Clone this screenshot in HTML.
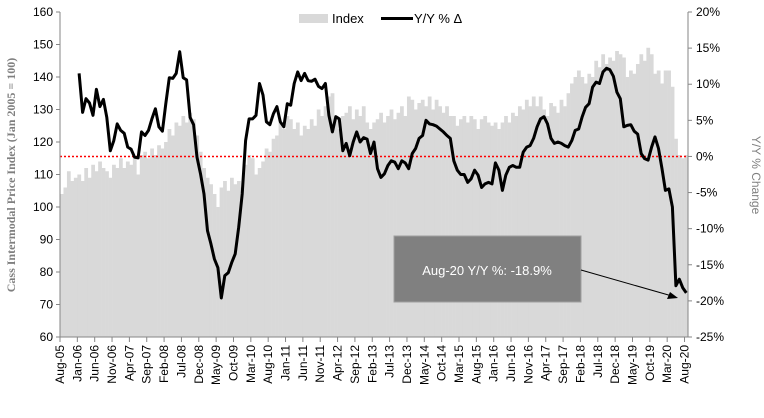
<!DOCTYPE html>
<html><head><meta charset="utf-8"><style>
body{margin:0;background:#fff;}
svg text{font-family:"Liberation Sans",sans-serif;}
</style></head><body>
<svg id="c" width="764" height="413" xmlns="http://www.w3.org/2000/svg"></svg>
<script>
const indexValues=[104,106,111,108,109,
110,108,112,109,113,111,114,112,111,109,113,112,
115,112,114,113,115,110,116,117,115,118,116,119,
118,120,124,122,126,125,128,126,129,127,122,117,
112,109,107,104,100,106,108,105,109,107,108,106,
113,116,115,110,112,114,118,117,121,122,126,124,
128,127,124,126,122,125,124,127,125,130,128,131,
134,135,127,124,128,129,131,127,130,128,131,126,
124,126,127,129,126,128,130,127,129,131,128,134,
133,130,132,133,131,134,130,133,131,129,131,128,
128,125,127,128,126,128,127,124,127,128,126,125,
126,124,126,128,126,129,128,131,130,133,131,134,
131,134,130,128,132,131,129,133,131,135,138,140,
142,140,138,141,140,145,143,147,144,146,145,148,
147,146,140,142,141,144,147,145,149,147,141,142,
138,142,142,137,121,116,115,116];
const yoyStart=5;
const yoyValues=[11.5,6.1,8.0,7.4,5.7,9.3,6.9,7.9,5.4,0.8,2.2,4.5,3.6,3.2,1.3,1.0,-0.1,-0.2,3.4,2.9,3.6,5.2,6.6,4.1,3.5,7.3,10.9,10.8,11.5,14.5,10.9,10.6,5.4,4.4,-0.1,-2.4,-5.2,-10.3,-12.1,-14.2,-15.4,-19.6,-16.5,-16.1,-14.7,-13.5,-9.8,-5.2,2.2,5.2,5.2,5.7,10.1,8.5,4.8,4.4,5.9,6.9,4.8,4.1,7.3,7.1,10.1,11.7,10.5,11.5,10.5,10.4,10.7,9.7,9.4,10.1,5.7,3.4,5.5,5.2,0.8,1.8,0.1,2.0,3.4,2.0,2.6,2.4,0.4,
2.0,-1.7,-2.9,-2.4,-1.25,-0.6,-0.8,-1.7,-0.6,-0.9,
-1.7,0.4,1.1,2.5,2.9,5.0,4.5,4.4,4.2,3.8,
3.4,2.9,2.5,-0.6,-1.9,-2.5,-2.5,-3.6,-3.1,-1.9,
-2.6,-4.3,-3.8,-3.6,-3.8,-0.9,-1.9,-4.7,-2.6,-1.5,
-1.25,-1.5,-1.5,0.6,1.3,1.5,2.5,4.1,5.2,5.5,
4.5,2.5,1.8,2.0,1.8,1.5,1.3,2.2,3.6,3.8,
5.5,6.8,7.3,9.6,10.3,10.1,11.7,12.2,12.0,11.1,
8.9,8.0,4.1,4.3,4.4,3.5,3.1,0.4,-0.3,-0.5,
1.3,2.7,1.1,-1.7,-4.7,-4.5,-7.0,-17.9,-17.0,-18.2,-18.9];
const leftTicks=[60,70,80,90,100,110,120,130,140,150,160];
const rightTicks=[20,15,10,5,0,-5,-10,-15,-20,-25];
const monthNames=["Jan","Feb","Mar","Apr","May","Jun","Jul","Aug","Sep","Oct","Nov","Dec"];

const NS="http://www.w3.org/2000/svg";
const svg=document.getElementById('c');
const X0=60,X1=688,Y0=12,Y1=337;
const N=indexValues.length;
const bw=(X1-X0)/N;
const xi=i=>X0+(i+0.5)*bw;
const yL=v=>Y1-(v-60)/100*(Y1-Y0);
const yR=v=>Y0+(20-v)/45*(Y1-Y0);
function mk(t,a,parent){const e=document.createElementNS(NS,t);for(const k in a)e.setAttribute(k,a[k]);(parent||svg).appendChild(e);return e;}

const gb=mk('g',{});


indexValues.forEach((v,i)=>{
  const r=mk('rect',{x:X0+i*bw,y:yL(v),width:bw+0.3,height:Y1-yL(v),fill:'#d9d9d9'},gb);
  
  
});
const z=mk('line',{x1:X0,x2:X1,y1:yR(0),y2:yR(0),stroke:'#ff0000','stroke-width':1.5,'stroke-dasharray':'2,2'});


const pts=yoyValues.map((v,k)=>xi(k+yoyStart).toFixed(1)+','+yR(v).toFixed(1)).join(' ');
const pl=mk('polyline',{points:pts,fill:'none',stroke:'#000','stroke-width':3,'stroke-linejoin':'round'});


const ax=mk('g',{stroke:'#868686','stroke-width':1});


mk('line',{x1:X0,x2:X0,y1:Y0,y2:Y1},ax);
mk('line',{x1:X1,x2:X1,y1:Y0,y2:Y1},ax);
mk('line',{x1:X0,x2:X1,y1:Y1,y2:Y1},ax);
leftTicks.forEach(v=>{
  mk('line',{x1:X0-4,x2:X0,y1:yL(v),y2:yL(v)},ax);
  const t=mk('text',{x:X0-7,y:yL(v)+4,'text-anchor':'end','font-size':12,fill:'#000'});
  t.textContent=v;
  
  
});
rightTicks.forEach(v=>{
  mk('line',{x1:X1,x2:X1+4,y1:yR(v),y2:yR(v)},ax);
  const t=mk('text',{x:X1+8,y:yR(v)+4,'font-size':12,fill:'#000'});
  t.textContent=v+'%';
  
  
});
for(let i=0;i<N;i+=5){
  const x=X0+i*bw;
  mk('line',{x1:x,x2:x,y1:Y1,y2:Y1+5},ax);
  const m=(7+i)%12,yr=5+Math.floor((7+i)/12);
  const t=mk('text',{transform:`translate(${x+4},${Y1+8}) rotate(-90)`,'text-anchor':'end','font-size':12,fill:'#000'});
  t.textContent=monthNames[m]+'-'+String(yr).padStart(2,'0');
  
  
}
</script>
<svg width="764" height="413" style="position:absolute;left:0;top:0" xmlns="http://www.w3.org/2000/svg">
<text transform="translate(15,175) rotate(-90)" text-anchor="middle" font-size="12" fill="#7f7f7f" font-weight="bold" style="font-family:'Liberation Serif',serif">Cass Intermodal Price Index (Jan 2005 = 100)</text>
<text transform="translate(752,175) rotate(90)" text-anchor="middle" font-size="12" fill="#7f7f7f" style="font-family:'Liberation Sans',sans-serif">Y/Y % Change</text>
<g>
<rect x="299" y="14" width="29" height="9" fill="#d9d9d9"/>
<text x="332" y="23" font-size="13" fill="#000" style="font-family:'Liberation Sans',sans-serif">Index</text>
<line x1="381" x2="413" y1="18.5" y2="18.5" stroke="#000" stroke-width="3"/>
<text x="414" y="23" font-size="13" fill="#000" style="font-family:'Liberation Sans',sans-serif">Y/Y % Δ</text>
</g>
<g>
<rect x="394" y="236" width="187" height="66" fill="#808080" stroke="#a0a0a0"/>
<text x="487" y="275" text-anchor="middle" font-size="13" fill="#fff" style="font-family:'Liberation Sans',sans-serif">Aug-20 Y/Y  %: -18.9%</text>
<line x1="581" y1="270" x2="672" y2="296" stroke="#000" stroke-width="1"/>
<polygon points="678,298 667,299 670,292" fill="#000"/>
</g>
</svg>
</body></html>
